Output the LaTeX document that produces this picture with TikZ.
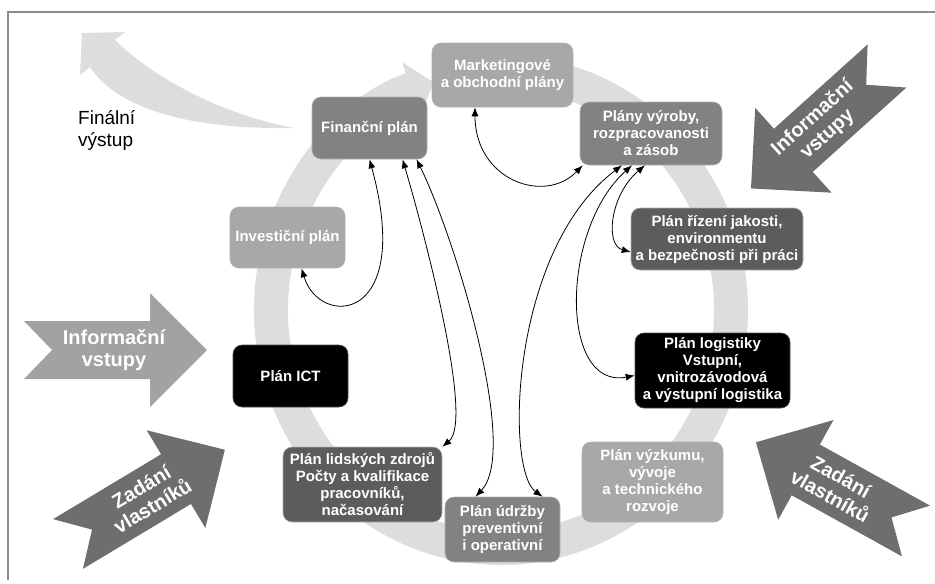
\documentclass[tikz,border=0pt]{standalone}
\usepackage{fontspec}
\setmainfont{Liberation Sans}
\usepackage{tikz}
\usetikzlibrary{arrows.meta,calc}
\definecolor{ringgray}{RGB}{221,221,221}
\definecolor{lightbox}{RGB}{168,168,168}
\definecolor{midbox}{RGB}{130,130,130}
\definecolor{darkbox}{RGB}{92,92,92}
\definecolor{darkarrow}{RGB}{110,110,110}
\definecolor{lightarrow}{RGB}{162,162,162}
\tikzstyle{plan}=[rounded corners=9pt,draw=white!70!black,line width=0.6pt,text=white,align=center,inner sep=2pt,font=\bfseries\fontsize{15}{17}\selectfont]
\tikzstyle{link}=[line width=0.8pt,{Latex[length=9pt,width=7pt]}-{Latex[length=9pt,width=7pt]}]
\tikzstyle{arrowtext}=[text=white,align=center,transform shape,font=\bfseries\fontsize{20}{22}\selectfont]
\tikzset{
  bigarrow/.pic={
    \fill[pic actions] (0,29) -- (126,29) -- (126,57) -- (183,0) -- (126,-57)
      -- (126,-29) -- (0,-29) -- (28,0) -- cycle;
  }
}

\begin{document}
\begin{tikzpicture}[x=1pt,y=1pt]
\useasboundingbox (0,0) rectangle (935,-584);
% frame
\draw[black!45,line width=1.5pt] (935,-12) -- (8,-12) -- (8,-580);

% ring
\draw[ringgray,line width=34pt,-{Triangle[length=24pt,width=56pt]}]
  (501,-310) ++(75:230 and 238) arc[start angle=75,end angle=-253,x radius=230,y radius=238];

% final output
\fill[ringgray] (295,-128) .. controls (220,-115) and (150,-75) .. (115,-40)
  -- (125,-32) -- (82,-33) -- (80,-75) -- (90,-67)
  .. controls (115,-105) and (180,-130) .. cycle;
\node[anchor=north west,align=left,inner sep=0pt,font=\fontsize{19}{22}\selectfont] (final) at (78,-110) {Finální\\výstup};

% input arrows
\begin{scope}[shift={(24,-350)}]
  \pic[fill=lightarrow,transform shape] {bigarrow};
  \node[arrowtext] (infoL) at (90,0) {Informační\\vstupy};
\end{scope}
\begin{scope}[shift={(887,-66)},rotate=222]
  \pic[fill=darkarrow,transform shape] {bigarrow};
  \node[arrowtext,rotate=180] (infoR) at (90,0) {Informační\\vstupy};
\end{scope}
\begin{scope}[shift={(68,-544)},rotate=31]
  \pic[fill=darkarrow,transform shape] {bigarrow};
  \node[arrowtext] (ownL) at (92,0) {Zadání\\vlastníků};
\end{scope}
\begin{scope}[shift={(916,-531)},rotate=151]
  \pic[fill=darkarrow,transform shape] {bigarrow};
  \node[arrowtext,rotate=180] (ownR) at (92,0) {Zadání\\vlastníků};
\end{scope}

% plans
\node[plan,fill=lightbox,minimum width=141pt,minimum height=64pt] (mkt) at (502.5,-75) {Marketingové\\a obchodní plány};
\node[plan,fill=midbox,minimum width=115pt,minimum height=62pt] (fin) at (369.5,-128) {Finanční plán};
\node[plan,fill=midbox,minimum width=142pt,minimum height=63pt] (vyr) at (651,-133.5) {Plány výroby,\\rozpracovanosti\\a zásob};
\node[plan,fill=darkbox,minimum width=172pt,minimum height=62pt] (jak) at (717,-239) {Plán řízení jakosti,\\environmentu\\a bezpečnosti při práci};
\node[plan,fill=lightbox,minimum width=115pt,minimum height=61pt] (inv) at (287.5,-237.5) {Investiční plán};
\node[plan,fill=black,draw=black!70,minimum width=115pt,minimum height=62pt] (ict) at (290.5,-376) {Plán ICT};
\node[plan,fill=black,draw=black!70,minimum width=155pt,minimum height=75pt] (log) at (712.5,-370.5) {Plán logistiky\\Vstupní,\\vnitrozávodová\\a výstupní logistika};
\node[plan,fill=darkbox,minimum width=159pt,minimum height=75pt] (lid) at (362.5,-484.5) {Plán lidských zdrojů\\Počty a kvalifikace\\pracovníků,\\načasování};
\node[plan,fill=midbox,minimum width=115pt,minimum height=65pt] (udr) at (502.5,-529.5) {Plán údržby\\preventivní\\i operativní};
\node[plan,fill=lightbox,minimum width=141pt,minimum height=80pt] (vyz) at (652.5,-482) {Plán výzkumu,\\vývoje\\a technického\\rozvoje};

% links
\draw[link] ([xshift=14pt]inv.south) .. controls +(18,-60) and +(45,-165) .. (fin.south);
\draw[link] ([xshift=33pt]fin.south) .. controls +(17,-57) and +(33,27) .. (lid.north east);
\draw[link] ([xshift=47pt]fin.south) .. controls +(38,-77) and +(44.5,47) .. ([xshift=-27pt]udr.north);
\draw[link] ([xshift=-29pt]vyr.south) .. controls +(-112,-84.5) and +(-37.5,27) .. ([xshift=40pt]udr.north);
\draw[link] ([xshift=-19pt]vyr.south) .. controls +(-72,-64.5) and +(-75,-14.5) .. ([yshift=-5pt]log.west);
\draw[link] ([xshift=-6pt]vyr.south) .. controls +(-35,-29.5) and +(-26,7) .. ([yshift=-13pt]jak.west);
\draw[link] ([xshift=-27.5pt]mkt.south) .. controls +(0,-73) and +(-38,-39.5) .. ([xshift=3pt]vyr.south west);
\end{tikzpicture}
\end{document}
